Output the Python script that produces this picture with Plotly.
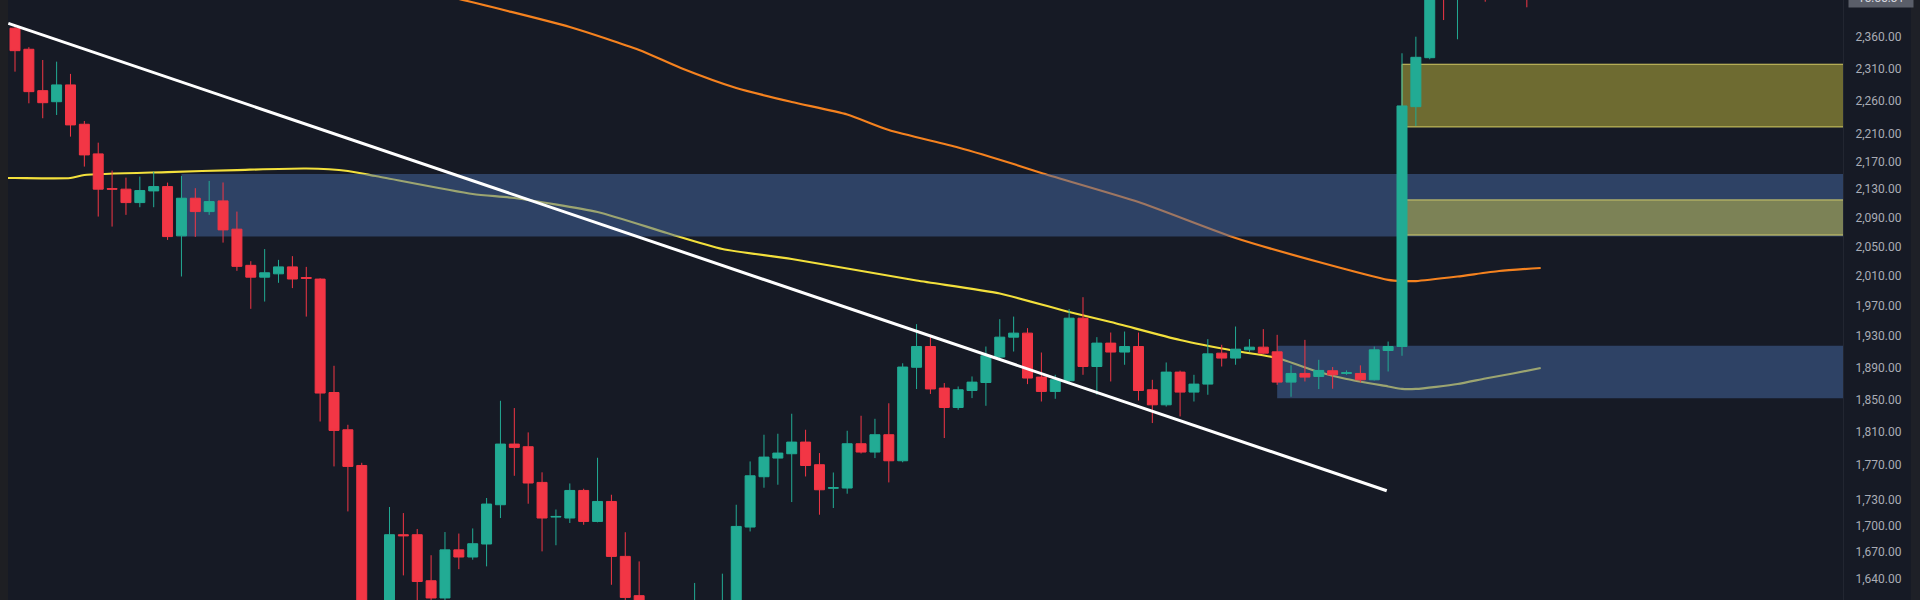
import plotly.graph_objects as go

# ---------------- data ----------------
candle_idx = list(range(111))
open_p = [2373.0, 2339.7, 2275.6, 2258.8, 2284.4, 2224.9, 2181.1, 2130.9, 2130.1, 2111.0,
          2127.6, 2133.8, 2064.4, 2117.2, 2098.3, 2113.4, 2073.7, 2024.0, 2008.0, 2012.5,
          2021.9, 2007.5, 2005.4, 1858.5, 1812.6, 1769.7, 1603.0, 1596.0, 1689.4, 1689.4,
          1638.0, 1619.2, 1672.3, 1664.3, 1678.9, 1723.7, 1795.3, 1792.1, 1749.7, 1709.5,
          1708.4, 1740.3, 1704.5, 1727.5, 1665.0, 1621.7, 1585.0, 1575.0, 1592.0, 1580.0,
          1600.0, 1590.0, 1612.0, 1698.1, 1756.4, 1778.5, 1783.7, 1797.7, 1770.6, 1742.9,
          1743.1, 1795.7, 1785.7, 1806.6, 1775.3, 1890.2, 1916.7, 1864.0, 1839.9, 1861.0,
          1871.0, 1903.2, 1928.8, 1934.0, 1877.8, 1859.8, 1873.2, 1953.5, 1891.2, 1921.1,
          1909.6, 1916.7, 1861.9, 1843.2, 1884.1, 1859.0, 1869.0, 1908.2, 1901.9, 1912.5,
          1915.9, 1909.9, 1871.5, 1882.4, 1878.6, 1885.8, 1882.5, 1882.4, 1874.4, 1911.6,
          1916.7, 2251.3, 2326.5, 2470.0, 2428.0, 2450.0, 2470.0, 2440.0, 2462.0, 2450.0,
          2430.0]
high_p = [2375.0, 2343.0, 2322.9, 2320.3, 2301.3, 2229.8, 2197.6, 2156.8, 2146.6, 2148.1,
          2155.3, 2139.5, 2149.1, 2131.5, 2141.9, 2139.7, 2098.3, 2029.6, 2046.2, 2031.4,
          2036.5, 2021.9, 2006.5, 1892.1, 1818.7, 1772.9, 1614.0, 1721.1, 1714.1, 1695.9,
          1666.3, 1692.4, 1690.7, 1696.5, 1731.5, 1848.2, 1839.2, 1809.4, 1761.6, 1718.2,
          1748.5, 1742.3, 1778.9, 1735.3, 1692.2, 1659.4, 1610.0, 1605.0, 1612.0, 1635.6,
          1614.0, 1645.8, 1723.7, 1774.5, 1806.6, 1807.8, 1832.2, 1812.6, 1784.5, 1761.4,
          1811.4, 1829.7, 1826.0, 1845.1, 1895.3, 1945.7, 1928.6, 1870.3, 1866.0, 1878.6,
          1916.7, 1952.2, 1955.6, 1940.5, 1909.0, 1880.7, 1965.4, 1981.2, 1928.8, 1934.8,
          1936.1, 1934.8, 1874.4, 1896.3, 1886.0, 1880.7, 1926.2, 1918.9, 1942.6, 1926.2,
          1939.2, 1931.8, 1892.8, 1925.3, 1899.7, 1890.5, 1886.2, 1892.6, 1916.7, 1923.1,
          2333.4, 2359.5, 2460.0, 2480.0, 2470.0, 2490.0, 2485.0, 2475.0, 2480.0, 2470.0,
          2460.0]
low_p = [2304.8, 2256.4, 2233.9, 2238.8, 2206.5, 2162.6, 2091.3, 2077.3, 2093.7, 2104.5,
         2104.5, 2058.8, 2008.9, 2063.0, 2093.7, 2055.1, 2016.5, 1965.8, 1975.4, 2000.4,
         1993.3, 1955.6, 1822.7, 1768.6, 1716.0, 1595.0, 1575.0, 1590.0, 1643.9, 1612.0,
         1610.0, 1615.0, 1650.8, 1661.3, 1653.9, 1708.4, 1757.5, 1724.9, 1670.6, 1677.5,
         1702.7, 1700.7, 1703.5, 1633.6, 1605.0, 1570.0, 1560.0, 1552.0, 1570.0, 1565.0,
         1575.0, 1580.0, 1605.0, 1693.1, 1743.5, 1747.0, 1726.8, 1756.7, 1712.2, 1719.9,
         1736.5, 1784.0, 1778.5, 1749.7, 1773.5, 1862.8, 1856.7, 1802.6, 1837.1, 1851.5,
         1842.0, 1901.0, 1910.3, 1869.0, 1847.3, 1850.7, 1871.0, 1880.7, 1855.7, 1872.3,
         1893.4, 1848.5, 1820.8, 1841.0, 1828.9, 1847.3, 1855.7, 1891.2, 1893.4, 1909.9,
         1907.3, 1868.1, 1853.2, 1872.3, 1862.8, 1863.2, 1880.7, 1871.0, 1873.5, 1884.9,
         1904.8, 2222.4, 2324.0, 2386.0, 2355.4, 2430.0, 2415.5, 2425.0, 2430.0, 2406.5,
         2422.0]
close_p = [2337.5, 2274.1, 2257.3, 2284.4, 2223.9, 2179.6, 2130.1, 2130.1, 2111.0, 2128.1,
           2133.8, 2063.4, 2117.2, 2098.3, 2112.4, 2072.7, 2022.6, 2008.0, 2013.9, 2021.9,
           2005.5, 2006.4, 1857.8, 1811.8, 1768.6, 1603.0, 1596.0, 1689.4, 1688.2, 1637.2,
           1619.2, 1672.3, 1664.3, 1679.2, 1724.5, 1795.3, 1791.3, 1749.0, 1708.4, 1710.2,
           1740.3, 1704.5, 1727.5, 1665.0, 1619.8, 1585.0, 1575.0, 1592.0, 1580.0, 1600.0,
           1590.0, 1612.0, 1698.8, 1757.5, 1779.7, 1784.5, 1797.7, 1769.7, 1741.1, 1743.5,
           1795.7, 1785.7, 1806.6, 1775.3, 1890.5, 1916.7, 1862.9, 1839.9, 1861.9, 1871.5,
           1904.8, 1928.8, 1934.0, 1876.6, 1859.8, 1874.4, 1953.5, 1891.2, 1921.1, 1909.6,
           1916.7, 1861.0, 1843.2, 1884.1, 1859.0, 1869.0, 1907.3, 1901.9, 1913.3, 1915.9,
           1908.2, 1871.5, 1882.4, 1877.8, 1886.2, 1880.7, 1883.2, 1874.4, 1912.5, 1916.7,
           2252.4, 2327.1, 2440.0, 2428.0, 2450.0, 2470.0, 2440.0, 2462.0, 2450.0, 2430.0,
           2445.0]

ma_yellow_idx = [-1, 0, 4, 5, 11, 16, 21, 24, 26, 33, 36, 42, 47, 51, 56, 65, 71, 76, 79,
                 84, 88, 91, 94, 96, 99, 100, 101, 104, 106, 108, 110]
ma_yellow = [2146.1, 2146.1, 2146.1, 2150.4, 2154.7, 2157.6, 2159.8, 2156.2, 2149.0, 2123.2,
             2117.5, 2097.7, 2068.4, 2046.3, 2032.6, 2003.5, 1986.1, 1961.6, 1948.5, 1925.1,
             1911.0, 1902.0, 1884.2, 1875.4, 1866.0, 1862.9, 1862.9, 1869.1, 1876.0, 1882.3,
             1889.3]

ma_orange_idx = [31, 32, 40, 45, 48, 52, 56, 60, 63, 68, 72, 74, 81, 88, 94, 99, 100, 101,
                 104, 107, 110]
ma_orange = [2424.8, 2419.9, 2374.9, 2338.5, 2310.5, 2279.7, 2258.4, 2239.5, 2216.3, 2190.5,
             2166.3, 2153.3, 2111.8, 2061.4, 2028.5, 2004.4, 2002.8, 2002.8, 2008.9, 2016.3,
             2020.4]

trend_idx = [-0.48, 98.9]
trend_price = [2380.8, 1740.0]

# zones: (start index, low price, high price)
blue_zones = [(12, 2063.5, 2152.0), (91, 1851.3, 1917.8)]
yellow_zones = [(100, 2220.9, 2316.3), (100, 2065.5, 2114.8)]

tick_vals = [1640, 1670, 1700, 1730, 1770, 1810, 1850, 1890, 1930, 1970, 2010, 2050,
             2090, 2130, 2170, 2210, 2260, 2310, 2360]
tick_text = [f"{v:,.2f}" for v in tick_vals]
countdown = "15:55:31"

# ---------------- styling ----------------
BG = "#161a25"
UP = "#22ab94"
DOWN = "#f23645"
ZONE_END = 140
Y_RANGE = [3.20871, 3.38351]

fig = go.Figure()

# base layer: moving averages, then translucent zones over them
fig.add_trace(go.Scatter(x=ma_orange_idx, y=ma_orange, mode="lines",
                         line=dict(color="#f5821f", width=2.2, shape="spline", smoothing=0.6),
                         hoverinfo="skip", showlegend=False))
fig.add_trace(go.Scatter(x=ma_yellow_idx, y=ma_yellow, mode="lines",
                         line=dict(color="#f3e03c", width=2.2, shape="spline", smoothing=0.6),
                         hoverinfo="skip", showlegend=False))

for x0, lo, hi in blue_zones:
    fig.add_trace(go.Scatter(x=[x0, ZONE_END, ZONE_END, x0, x0], y=[lo, lo, hi, hi, lo],
                             mode="lines", fill="toself",
                             fillcolor="rgba(70,105,165,0.5)",
                             line=dict(width=0, color="rgba(0,0,0,0)"),
                             hoverinfo="skip", showlegend=False))
for x0, lo, hi in yellow_zones:
    fig.add_trace(go.Scatter(x=[x0, ZONE_END, ZONE_END, x0, x0], y=[lo, lo, hi, hi, lo],
                             mode="lines", fill="toself",
                             fillcolor="rgba(234,219,66,0.42)",
                             line=dict(width=1, color="rgba(235,225,110,0.85)"),
                             hoverinfo="skip", showlegend=False))

# overlay layer: candles and the trend line, drawn above the zones
fig.add_trace(go.Candlestick(
    x=candle_idx, open=open_p, high=high_p, low=low_p, close=close_p,
    increasing=dict(line=dict(color=UP, width=1), fillcolor=UP),
    decreasing=dict(line=dict(color=DOWN, width=1), fillcolor=DOWN),
    whiskerwidth=0, showlegend=False, hoverinfo="skip", yaxis="y2"))

fig.add_trace(go.Scatter(x=trend_idx, y=trend_price, mode="lines",
                         line=dict(color="#ffffff", width=3), hoverinfo="skip",
                         showlegend=False, yaxis="y2"))

W, H = 1920, 600
ML, MR = 8, 77
plot_w = W - ML - MR
step = 13.87
r0 = (ML - 15) / step
r1 = r0 + plot_w / step

fig.update_layout(
    width=W, height=H,
    margin=dict(l=ML, r=MR, t=0, b=0, pad=0),
    paper_bgcolor=BG, plot_bgcolor=BG,
    boxgap=0.28, boxgroupgap=0,
    showlegend=False,
    xaxis=dict(range=[r0, r1], showgrid=False, zeroline=False, showticklabels=False,
               rangeslider=dict(visible=False), fixedrange=True, showline=False,
               automargin=False),
    yaxis=dict(type="log", side="right", range=Y_RANGE,
               tickmode="array", tickvals=tick_vals, ticktext=tick_text,
               showgrid=False, zeroline=False, ticks="", ticklabelstandoff=9,
               tickfont=dict(family="Roboto, Arial, sans-serif", size=12, color="#a9acb5"),
               showline=True, linecolor="#222631", linewidth=1, fixedrange=True,
               automargin=False),
    yaxis2=dict(type="log", overlaying="y", side="right", range=Y_RANGE,
                showgrid=False, zeroline=False, showticklabels=False, ticks="",
                showline=False, fixedrange=True, automargin=False),
    shapes=[
        dict(type="rect", xref="paper", yref="paper", x0=-ML / plot_w, x1=0, y0=0, y1=1,
             fillcolor="#1e1f23", line=dict(width=0), layer="above"),
        dict(type="rect", xref="paper", yref="paper", x0=(1911 - ML) / plot_w,
             x1=(W - ML) / plot_w, y0=0, y1=1,
             fillcolor="#1e2027", line=dict(width=0), layer="above"),
    ],
    annotations=[
        dict(text=countdown, xref="paper", yref="paper",
             x=(1880.5 - ML) / plot_w, y=1, xanchor="center", yanchor="bottom",
             yshift=-8.5, showarrow=False, width=62, height=16,
             bgcolor="#5a5e69", font=dict(family="Roboto, Arial, sans-serif", size=12,
                                          color="#d8dae0")),
    ],
)

fig.write_html("out.html",
               config={"displayModeBar": False, "staticPlot": True},
               post_script="document.body.style.margin='0px';document.body.style.overflow='hidden';")
